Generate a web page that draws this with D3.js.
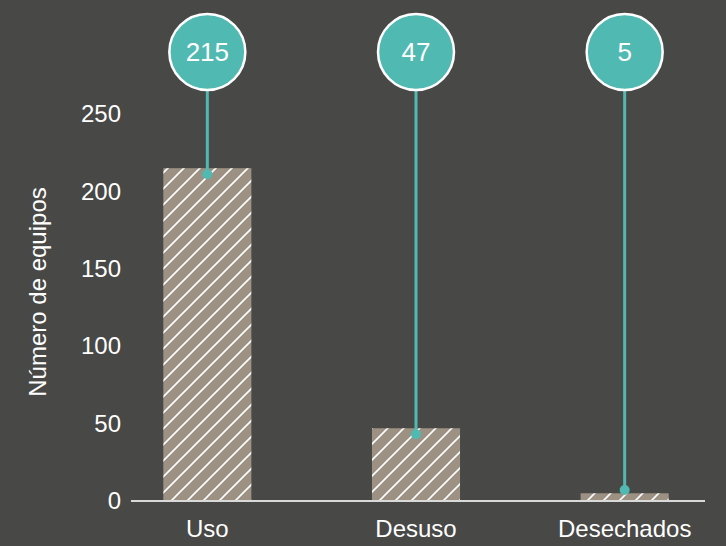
<!DOCTYPE html>
<html>
<head>
<meta charset="utf-8">
<script src="https://cdn.jsdelivr.net/npm/d3@7/dist/d3.min.js"></script>
<style>
  html, body { margin: 0; padding: 0; background: #484846; }
  svg { display: block; }
  text { font-family: "Liberation Sans", Arial, sans-serif; fill: #ffffff; }
</style>
</head>
<body>
<svg id="chart" width="726" height="546"></svg>
<script>
// Equipment status counts
const categories = ["Uso", "Desuso", "Desechados"];
const values = [215, 47, 5];
const yTicks = [0, 50, 100, 150, 200, 250];
const yTitle = "Número de equipos";

const W = 726, H = 546;
const teal = "#50b9b2";
const barFill = "#9c9183";
const fontSize = "24px";

const svg = d3.select("#chart");
svg.append("rect").attr("width", W).attr("height", H).attr("fill", "#484846");

// hatch fill for the bars
const defs = svg.append("defs");
const pat = defs.append("pattern")
  .attr("id", "hatch")
  .attr("patternUnits", "userSpaceOnUse")
  .attr("width", 16).attr("height", 16);
pat.append("rect").attr("width", 16).attr("height", 16).attr("fill", barFill);
pat.append("path")
  .attr("d", "M-4,4 L4,-4 M0,16 L16,0 M12,20 L20,12")
  .attr("stroke", "#ffffff").attr("stroke-width", 1.6);

const y = d3.scaleLinear().domain([0, 250]).range([501, 114]);
const x = d3.scaleBand().domain(categories).range([103, 729])
  .paddingInner(0.578).paddingOuter(0.289);

const data = categories.map((c, i) => ({ cat: c, value: values[i] }));

// y axis (labels only)
const yAxis = svg.append("g")
  .attr("transform", "translate(131,0)")
  .call(d3.axisLeft(y).tickValues(yTicks).tickSize(0).tickPadding(10));
yAxis.select(".domain").remove();
yAxis.selectAll("text")
  .style("font-size", fontSize)
  .style("font-family", "Liberation Sans, Arial, sans-serif")
  .attr("fill", "#ffffff");

// bars
svg.append("g").selectAll("rect").data(data).join("rect")
  .attr("x", d => x(d.cat))
  .attr("width", x.bandwidth())
  .attr("y", d => y(d.value))
  .attr("height", d => y(0) - y(d.value))
  .attr("fill", "url(#hatch)");

// baseline
svg.append("line")
  .attr("x1", 131).attr("x2", 705)
  .attr("y1", y(0)).attr("y2", y(0))
  .attr("stroke", "#d9d9d9").attr("stroke-width", 2);

// x axis (labels only)
const xAxis = svg.append("g")
  .attr("transform", `translate(0,${y(0)})`)
  .call(d3.axisBottom(x).tickSize(0).tickPadding(19));
xAxis.select(".domain").remove();
xAxis.selectAll("text")
  .style("font-size", fontSize)
  .style("font-family", "Liberation Sans, Arial, sans-serif")
  .attr("fill", "#ffffff");

// y-axis title
svg.append("text")
  .attr("transform", "translate(46,292) rotate(-90)")
  .attr("text-anchor", "middle")
  .style("font-size", fontSize)
  .text(yTitle);

// callouts: circle badge with value, stem down to a dot on the bar
const badgeY = 52, badgeR = 38;
const callouts = svg.append("g").selectAll("g").data(data).join("g")
  .attr("transform", d => `translate(${x(d.cat) + x.bandwidth() / 2},0)`);

const dotY = d => Math.min(y(d.value) + 6, y(0) - 11);

callouts.append("line")
  .attr("x1", 0).attr("x2", 0)
  .attr("y1", badgeY + badgeR)
  .attr("y2", d => dotY(d))
  .attr("stroke", teal).attr("stroke-width", 3);

callouts.append("circle")
  .attr("cy", d => dotY(d))
  .attr("r", 5)
  .attr("fill", teal);

callouts.append("circle")
  .attr("cy", badgeY).attr("r", badgeR)
  .attr("fill", teal)
  .attr("stroke", "#ffffff").attr("stroke-width", 2.5);

callouts.append("text")
  .attr("y", badgeY)
  .attr("dy", "0.35em")
  .attr("text-anchor", "middle")
  .style("font-size", "26px")
  .text(d => d.value);
</script>
</body>
</html>
